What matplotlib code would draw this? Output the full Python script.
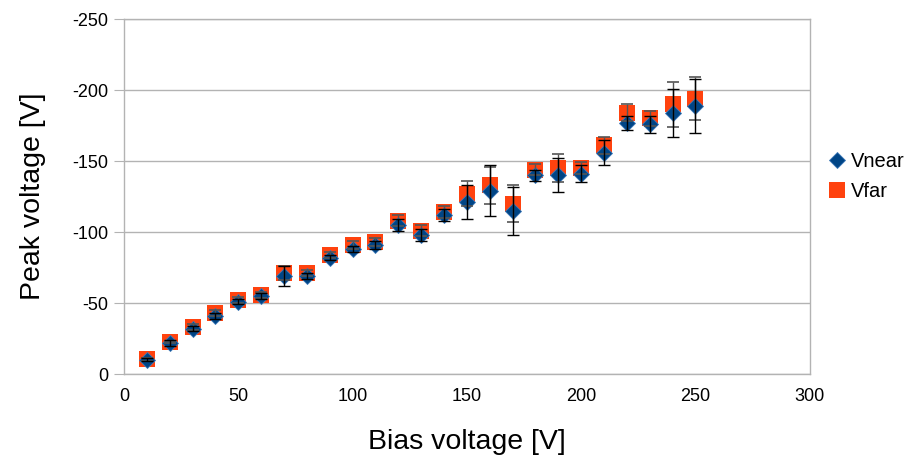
import matplotlib
matplotlib.use("Agg")
import matplotlib.pyplot as plt

plt.rcParams['font.family'] = ['Liberation Sans', 'DejaVu Sans']
plt.rcParams['axes.unicode_minus'] = False

# Данные
bias = [10, 20, 30, 40, 50, 60, 70, 80, 90, 100, 110, 120, 130,
        140, 150, 160, 170, 180, 190, 200, 210, 220, 230, 240, 250]
v_near = [-10, -22, -32, -41, -51, -55, -69, -69, -82, -88, -91, -105, -98,
          -112, -121, -129, -115, -140, -140, -141, -156, -177, -176, -184, -189]
v_far = [-10.5, -22.5, -33, -43, -52, -55.5, -71, -71, -84, -91, -93, -108, -101,
         -114, -127, -133, -120, -144, -145, -145, -161, -184, -180, -190, -194]
near_err = [1, 2, 2, 2, 2, 2, 7, 2, 2, 2, 3, 4, 4,
            4, 12, 18, 17, 4, 12, 6, 9, 5, 6, 17, 19]
far_err = [1, 1, 2, 2, 2, 2, 5, 2, 2, 3, 3, 4, 4,
           4, 9, 13, 13, 4, 10, 4, 6, 6, 5, 16, 15]

fig = plt.figure(figsize=(9.13, 4.55), dpi=100)
ax = fig.add_axes([0.1358, 0.178, 0.751, 0.78])

ax.plot(bias, v_far, 's', color='#ff420e', markersize=12, markeredgewidth=0,
        label='Vfar', zorder=3)
ax.plot(bias, v_near, 'D', color='#004586', markersize=7.7, markeredgewidth=0.6,
        markeredgecolor='#3b78b8', label='Vnear', zorder=4)

ax.errorbar(bias, v_far, yerr=far_err, fmt='none', ecolor='#555555',
            elinewidth=1, capsize=4, capthick=1.2, zorder=5)
ax.errorbar(bias, v_near, yerr=near_err, fmt='none', ecolor='black',
            elinewidth=1, capsize=4, capthick=1, zorder=6)

ax.set_xlim(0, 300)
ax.set_ylim(0, -250)
ax.set_xticks(range(0, 301, 50))
ax.set_yticks(range(-250, 1, 50))
ax.tick_params(axis='x', length=0, labelsize=13, pad=10)
ax.tick_params(axis='y', length=7, color='#b3b3b3', labelsize=13, pad=4)

ax.grid(axis='y', color='#b3b3b3', linewidth=1)
ax.set_axisbelow(True)
for s in ax.spines.values():
    s.set_color('#b3b3b3')
    s.set_linewidth(1)

ax.set_xlabel('Bias voltage [V]', fontsize=20.5, labelpad=17)
ax.set_ylabel('Peak voltage [V]', fontsize=20.5, labelpad=19)

handles, labels = ax.get_legend_handles_labels()
ax.legend(handles[::-1], labels[::-1], loc='center left', bbox_to_anchor=(1.01, 0.557),
          frameon=False, fontsize=14.5, handletextpad=0.1, labelspacing=0.55,
          handlelength=1.2, borderaxespad=0)

fig.savefig('out.png', dpi=100)
